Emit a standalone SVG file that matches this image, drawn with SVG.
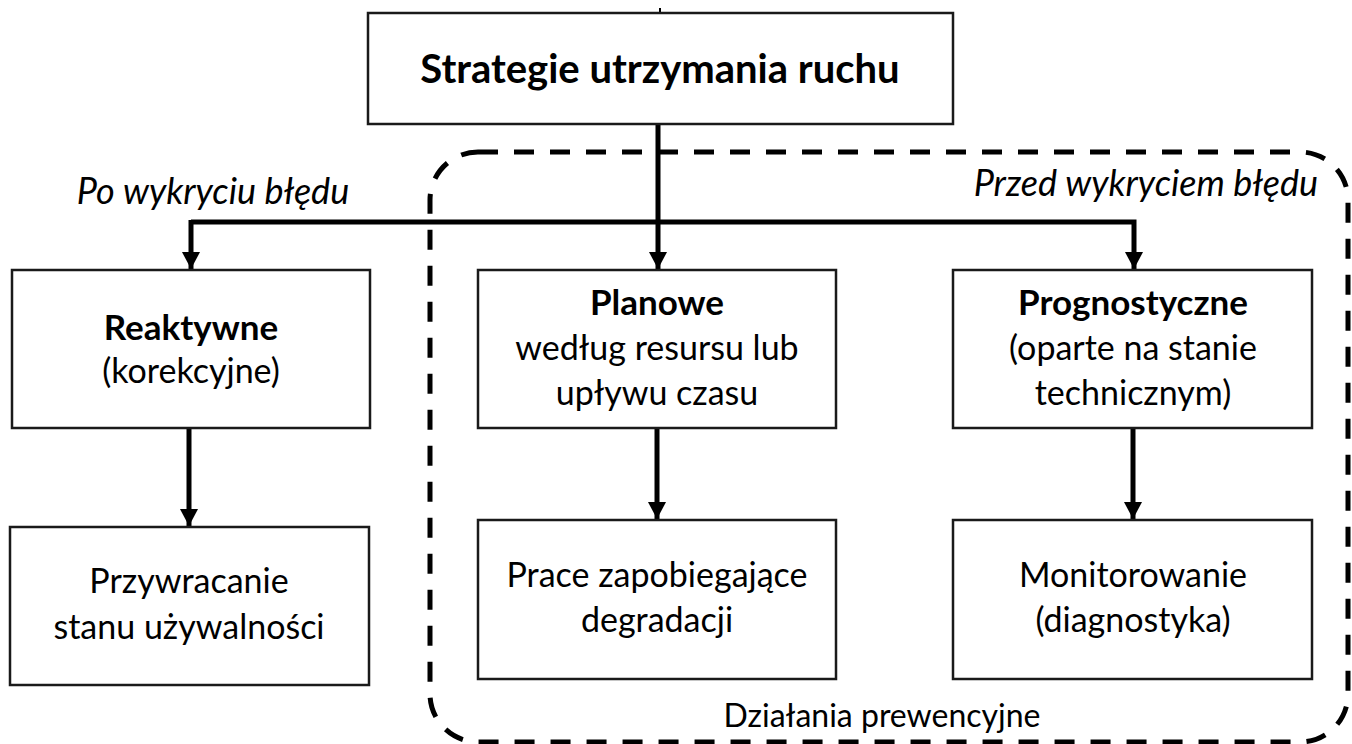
<svg xmlns="http://www.w3.org/2000/svg" width="1352" height="744" viewBox="0 0 1352 744">
  <defs>
    <marker id="arrow" viewBox="0 0 10 10" refX="10" refY="5" markerWidth="3.4" markerHeight="3.6" markerUnits="strokeWidth" orient="auto" preserveAspectRatio="none">
      <path d="M0,0 L10,5 L0,10 z" fill="#000"/>
    </marker>
    <style>
      .box { fill: #fff; stroke: #1a1a1a; stroke-width: 2.5; }
      .lbl { font-family: Lato, "Open Sans", "Liberation Sans", sans-serif; font-size: 34px; fill: #000; text-anchor: middle; }
      .b { font-weight: bold; font-size: 35px; }
      .it { font-style: italic; font-size: 36px; }
      .wire { fill: none; stroke: #000; stroke-width: 5; }
      .zone { fill: none; stroke: #000; stroke-width: 5; stroke-dasharray: 20 16; }
    </style>
  </defs>
  <rect width="1352" height="744" fill="#fff"/>

  <!-- preventive actions zone -->
  <rect class="zone" x="430" y="152" width="918" height="590" rx="48" ry="48"/>

  <!-- connectors -->
  <g id="connectors">
    <line x1="660" y1="8" x2="660" y2="13" stroke="#000" stroke-width="2"/>
    <line class="wire" x1="658" y1="124" x2="658" y2="269" marker-end="url(#arrow)"/>
    <polyline class="wire" points="191,222 1134,222 1134,269" marker-end="url(#arrow)"/>
    <line class="wire" x1="191" y1="220" x2="191" y2="269" marker-end="url(#arrow)"/>
    <line class="wire" x1="189" y1="428" x2="189" y2="526" marker-end="url(#arrow)"/>
    <line class="wire" x1="657" y1="428" x2="657" y2="519" marker-end="url(#arrow)"/>
    <line class="wire" x1="1133" y1="428" x2="1133" y2="519" marker-end="url(#arrow)"/>
  </g>

  <g id="root">
    <rect class="box" x="368" y="13" width="585" height="111"/>
    <text class="lbl b" x="660" y="83" style="font-size:40px">Strategie utrzymania ruchu</text>
  </g>

  <g id="reactive">
    <rect class="box" x="12" y="270" width="358" height="158"/>
    <text class="lbl" x="191" y="340"><tspan class="b">Reaktywne</tspan><tspan x="191" dy="43">(korekcyjne)</tspan></text>
  </g>

  <g id="restore">
    <rect class="box" x="10" y="527" width="359" height="158"/>
    <text class="lbl" x="189" y="593">Przywracanie<tspan x="189" dy="46">stanu używalności</tspan></text>
  </g>

  <g id="planned">
    <rect class="box" x="478" y="270" width="358" height="158"/>
    <text class="lbl" x="657" y="315"><tspan class="b">Planowe</tspan><tspan x="657" dy="45">według resursu lub</tspan><tspan x="657" dy="45">upływu czasu</tspan></text>
  </g>

  <g id="prevent">
    <rect class="box" x="478" y="520" width="358" height="159"/>
    <text class="lbl" x="657" y="587">Prace zapobiegające<tspan x="657" dy="45">degradacji</tspan></text>
  </g>

  <g id="predictive">
    <rect class="box" x="953" y="270" width="359" height="158"/>
    <text class="lbl" x="1133" y="315"><tspan class="b">Prognostyczne</tspan><tspan x="1133" dy="45">(oparte na stanie</tspan><tspan x="1133" dy="45">technicznym)</tspan></text>
  </g>

  <g id="monitoring">
    <rect class="box" x="953" y="520" width="359" height="159"/>
    <text class="lbl" x="1133" y="587">Monitorowanie<tspan x="1133" dy="45">(diagnostyka)</tspan></text>
  </g>

  <g id="labels">
    <text class="lbl it" x="213" y="204">Po wykryciu błędu</text>
    <text class="lbl it" x="1318" y="196" style="text-anchor:end">Przed wykryciem błędu</text>
    <text class="lbl" x="882" y="727" style="font-size:32px">Działania prewencyjne</text>
  </g>
</svg>
